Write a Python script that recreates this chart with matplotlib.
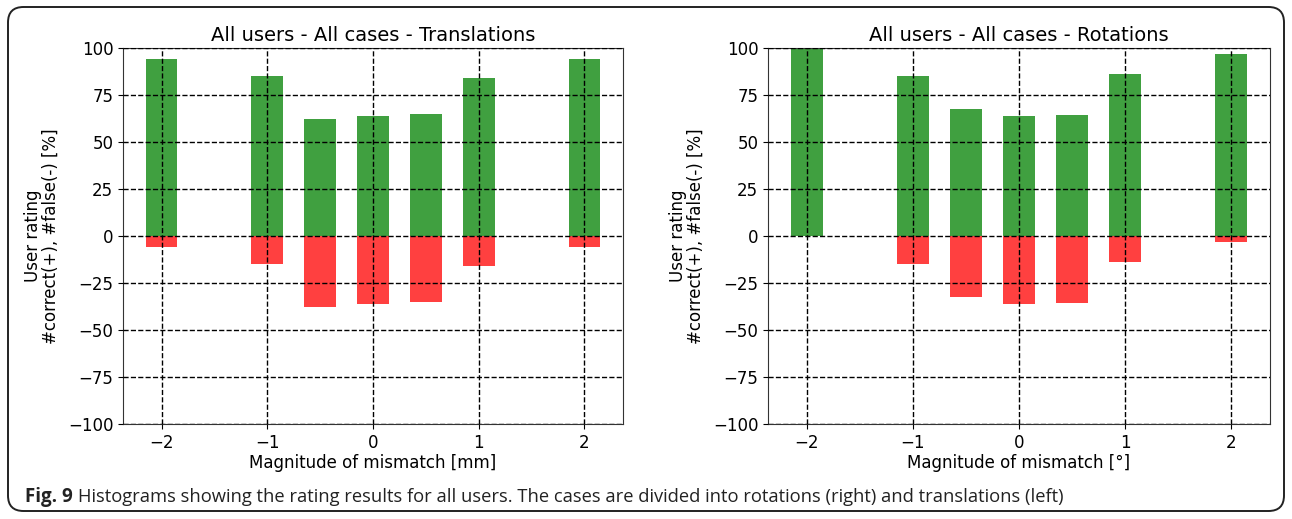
import matplotlib.pyplot as plt
from matplotlib.patches import FancyBboxPatch

# Mismatch magnitudes tested (same steps for both cases)
offsets = [-2, -1, -0.5, 0, 0.5, 1, 2]

# Percentage of correct (+) and false (-) ratings
trans_correct = [94, 85, 62, 64, 65, 84, 94]
trans_false = [-6, -15, -38, -36, -35, -16, -6]
rot_correct = [100, 85, 67.5, 64, 64.5, 86, 97]
rot_false = [0, -15, -32.5, -36, -35.5, -14, -3]

W, H = 1292, 519
fig = plt.figure(figsize=(W / 100, H / 100), dpi=100)

# rounded frame around the whole figure
frame = FancyBboxPatch((8 / W, 8 / H), 1 - 16 / W, 1 - 15 / H,
                       boxstyle="round,pad=0,rounding_size=0.012",
                       transform=fig.transFigure, fill=False,
                       edgecolor='#222222', linewidth=1.4, mutation_aspect=W / H)
fig.patches.append(frame)


def draw_panel(ax, correct, false, title, xlabel):
    ax.bar(offsets, correct, width=0.3, color='green', alpha=0.75, linewidth=0)
    ax.bar(offsets, false, width=0.3, color='red', alpha=0.75, linewidth=0)
    ax.set_ylim(-100, 100)
    ax.set_yticks([-100, -75, -50, -25, 0, 25, 50, 75, 100])
    ax.set_xticks([-2, -1, 0, 1, 2])
    ax.grid(True, linestyle='--', color='black', linewidth=1)
    ax.set_axisbelow(False)
    ax.set_title(title, fontsize=14, pad=5)
    ax.set_xlabel(xlabel, fontsize=12, labelpad=2)
    ax.set_ylabel('User rating\n#correct(+), #false(-) [%]', fontsize=12,
                  linespacing=0.95, labelpad=6)
    ax.tick_params(labelsize=12)
    for s in ax.spines.values():
        s.set_color('#333333')


ax1 = fig.add_axes([123 / W, 1 - 424 / H, 500 / W, 376 / H])
draw_panel(ax1, trans_correct, trans_false,
           'All users - All cases - Translations', 'Magnitude of mismatch [mm]')

ax2 = fig.add_axes([768 / W, 1 - 424 / H, 502 / W, 376 / H])
draw_panel(ax2, rot_correct, rot_false,
           'All users - All cases - Rotations', 'Magnitude of mismatch [°]')

# caption: bold figure number followed by the description
cap_y = 1 - 497 / H
fig_no = fig.text(25 / W, cap_y, 'Fig. 9', fontsize=13.5, fontweight='bold',
                  family='Open Sans', va='center', color='#222222')
renderer = fig.canvas.get_renderer()
bb = fig_no.get_window_extent(renderer)
fig.text((bb.x1 + 5) / W, cap_y,
         'Histograms showing the rating results for all users. The cases are divided '
         'into rotations (right) and translations (left)',
         fontsize=13.2, family='Open Sans', va='center', color='#222222')

fig.savefig('out.png', dpi=100)
